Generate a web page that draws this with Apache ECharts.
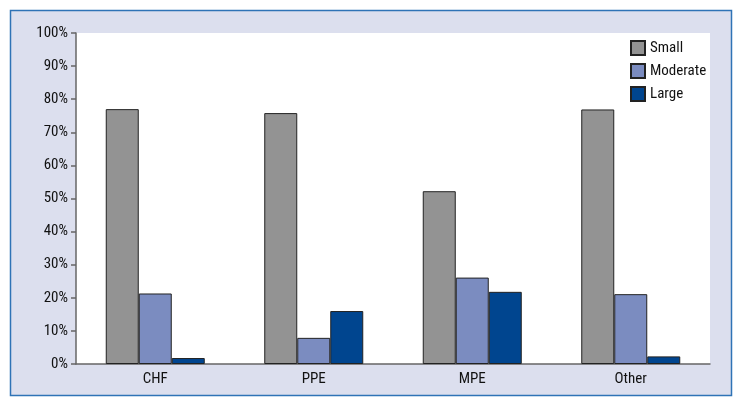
<!DOCTYPE html>
<html>
<head>
<meta charset="utf-8">
<script src="https://cdn.jsdelivr.net/npm/echarts@6/dist/echarts.min.js"></script>
<style>
  html, body { margin: 0; padding: 0; background: #fff; }
  #chart { width: 743px; height: 407px; }
</style>
</head>
<body>
<div id="chart"></div>
<script>
const categories = ['CHF', 'PPE', 'MPE', 'Other'];
const smallValues = [77, 75.8, 52.2, 76.9];
const moderateValues = [21.3, 7.9, 26.1, 21.1];
const largeValues = [1.8, 16, 21.8, 2.3];

const font = '"Liberation Sans Narrow", "Roboto Condensed", Roboto, sans-serif';

const chart = echarts.init(document.getElementById('chart'));

const barStyle = (color) => ({
  color: color,
  borderColor: '#222',
  borderWidth: 1
});

chart.setOption({
  animation: false,
  textStyle: { fontFamily: font },
  graphic: [
    {
      type: 'rect',
      z: -10,
      shape: { x: 10.5, y: 10.5, width: 721, height: 385 },
      style: { fill: '#dcdfee', stroke: '#2f73b6', lineWidth: 1.5 }
    }
  ],
  legend: {
    orient: 'vertical',
    left: 625,
    top: 35,
    itemWidth: 14,
    itemHeight: 14,
    itemGap: 7,
    textStyle: { fontFamily: font, fontSize: 15, color: '#111' },
    data: [
      { name: 'Small', icon: 'rect' },
      { name: 'Moderate', icon: 'rect' },
      { name: 'Large', icon: 'rect' }
    ]
  },
  grid: {
    left: 76,
    top: 33,
    right: 33,
    bottom: 43,
    show: true,
    backgroundColor: '#fff',
    borderWidth: 0
  },
  xAxis: {
    type: 'category',
    data: categories,
    axisLine: { lineStyle: { color: '#666', width: 1.5 } },
    axisTick: { show: false },
    axisLabel: { color: '#111', fontSize: 15, margin: 8, fontFamily: font }
  },
  yAxis: {
    type: 'value',
    min: 0,
    max: 100,
    interval: 10,
    axisLine: { show: true, lineStyle: { color: '#666', width: 1.5 } },
    axisTick: { show: true, length: 5, lineStyle: { color: '#666', width: 1.5 } },
    splitLine: { show: false },
    axisLabel: {
      formatter: '{value}%',
      color: '#111',
      fontSize: 15,
      margin: 8,
      fontFamily: font
    }
  },
  series: [
    {
      name: 'Small',
      type: 'bar',
      data: smallValues,
      barWidth: 33,
      barGap: '0%',
      itemStyle: barStyle('#939393')
    },
    {
      name: 'Moderate',
      type: 'bar',
      data: moderateValues,
      barWidth: 33,
      barGap: '0%',
      itemStyle: barStyle('#7b8cc0')
    },
    {
      name: 'Large',
      type: 'bar',
      data: largeValues,
      barWidth: 33,
      barGap: '0%',
      itemStyle: barStyle('#00458f')
    }
  ]
});
</script>
</body>
</html>
